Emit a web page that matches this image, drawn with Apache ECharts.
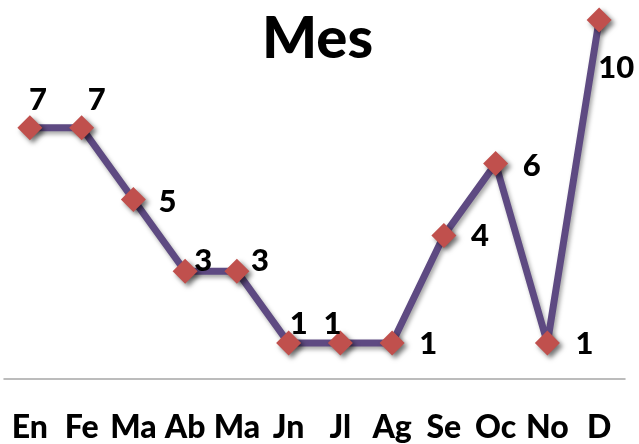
<!DOCTYPE html>
<html>
<head>
<meta charset="utf-8">
<script src="https://cdn.jsdelivr.net/npm/echarts@6/dist/echarts.min.js"></script>
<style>
  html, body { margin: 0; padding: 0; background: #ffffff; }
  #chart { width: 639px; height: 444px; }
</style>
</head>
<body>
<div id="chart"></div>
<script>
// Monthly counts
const months = ['En', 'Fe', 'Ma', 'Ab', 'Ma', 'Jn', 'Jl', 'Ag', 'Se', 'Oc', 'No', 'D'];
const counts = [7, 7, 5, 3, 3, 1, 1, 1, 4, 6, 1, 10];

// Where each value label sits relative to its marker (px)
const labelOffsets = [
  [8, -28], [15, -28], [34, 2], [18, -10], [23, -10], [10, -19],
  [-8, -19], [36, 1], [36, 1], [36, 2], [37, 1], [17, 48]
];

const FONT = 'Lato, "Open Sans", sans-serif';

const chart = echarts.init(document.getElementById('chart'), null, { renderer: 'canvas' });

const seriesData = counts.map((v, i) => ({
  value: v,
  label: { offset: labelOffsets[i] }
}));

chart.setOption({
  backgroundColor: '#ffffff',
  animation: false,
  title: {
    text: 'Mes',
    left: 257,
    top: 5,
    textStyle: { fontFamily: FONT, fontWeight: 900, fontSize: 58, color: '#000000' }
  },
  grid: { left: 4, right: 14, top: 20, bottom: 64, containLabel: false },
  xAxis: {
    type: 'category',
    data: months,
    boundaryGap: true,
    axisLine: { lineStyle: { color: '#a6a6a6', width: 1.5 } },
    axisTick: { show: false },
    axisLabel: {
      interval: 0,
      margin: 33,
      fontFamily: FONT,
      fontWeight: 900,
      fontSize: 32,
      color: '#000000'
    }
  },
  yAxis: {
    type: 'value',
    min: 0,
    max: 10,
    interval: 1,
    show: false,
    splitLine: { show: false }
  },
  series: [{
    type: 'line',
    data: seriesData,
    symbol: 'diamond',
    symbolSize: 25,
    lineStyle: {
      color: '#5e4a82',
      width: 7,
      shadowColor: 'rgba(0,0,0,0.35)',
      shadowBlur: 4,
      shadowOffsetX: 2,
      shadowOffsetY: 3
    },
    itemStyle: {
      color: '#c0504d',
      borderWidth: 0,
      shadowColor: 'rgba(0,0,0,0.55)',
      shadowBlur: 5,
      shadowOffsetX: 3,
      shadowOffsetY: 3
    },
    label: {
      show: true,
      position: 'inside',
      fontFamily: FONT,
      fontWeight: 900,
      fontSize: 31,
      color: '#000000'
    },
    z: 2
  }]
});
</script>
</body>
</html>
